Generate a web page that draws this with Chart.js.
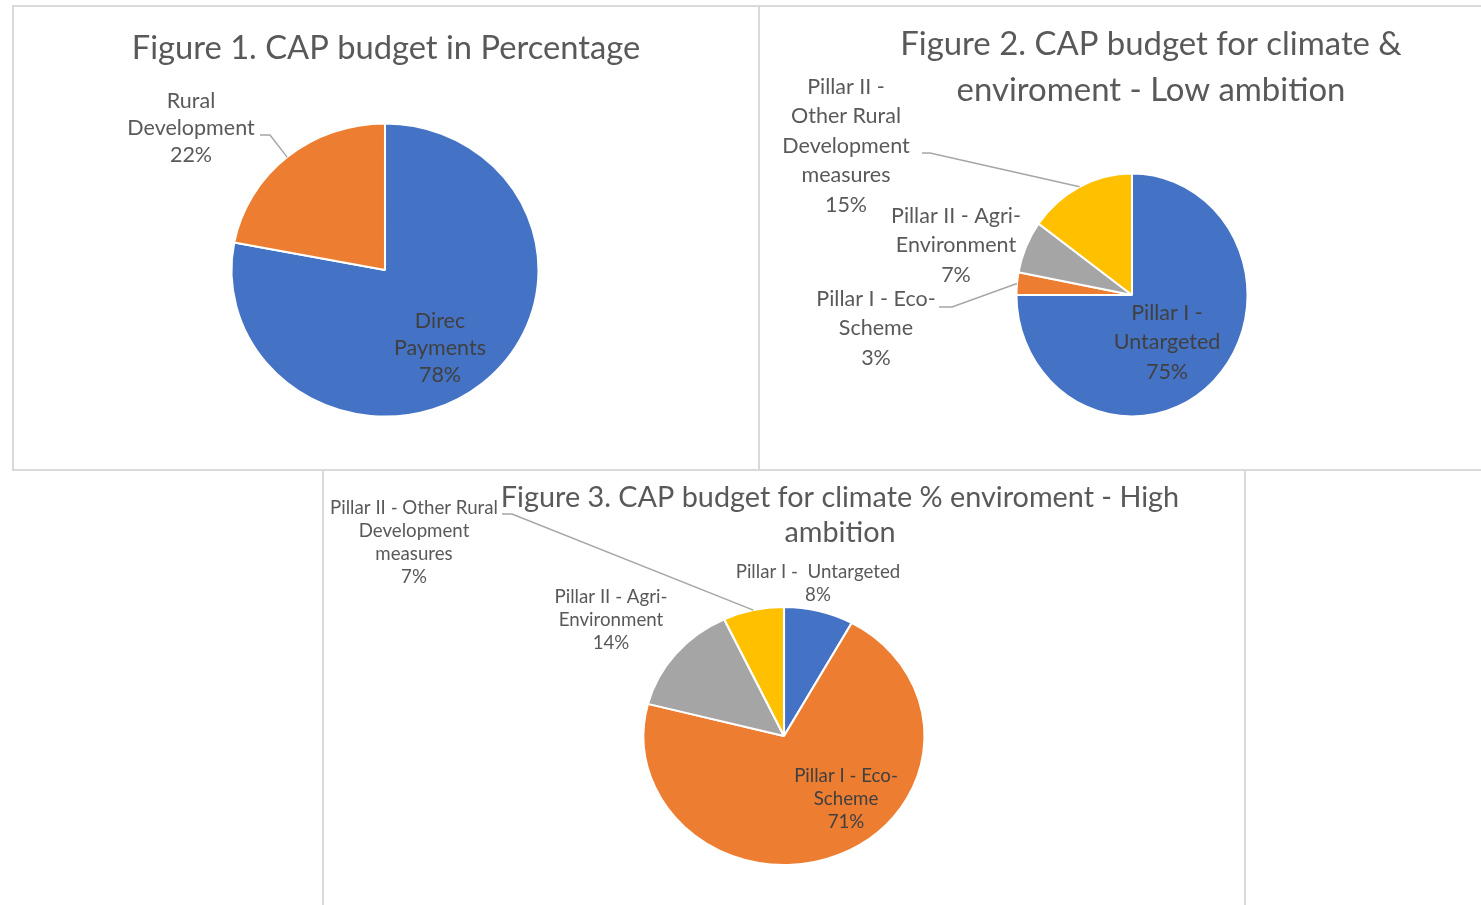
<!DOCTYPE html>
<html>
<head>
<meta charset="utf-8">
<script src="https://cdn.jsdelivr.net/npm/chart.js@4.4.0/dist/chart.umd.min.js"></script>
<style>
body { margin: 0; background: #fff; width: 1481px; height: 905px; overflow: hidden; position: relative; }
.panel { position: absolute; border: 2px solid #d9d9d9; box-sizing: border-box; }
canvas { position: absolute; }
</style>
</head>
<body>
<div class="panel" style="left:12px;top:5px;width:748px;height:466px"></div>
<div class="panel" style="left:758px;top:5px;width:730px;height:466px"></div>
<div class="panel" style="left:322px;top:469px;width:924px;height:450px"></div>
<canvas id="c1" width="744" height="462" style="left:14px;top:7px"></canvas>
<canvas id="c2" width="721" height="462" style="left:760px;top:7px"></canvas>
<canvas id="c3" width="920" height="434" style="left:324px;top:471px"></canvas>
<script>
(function () {
    // data
    var fig1Labels = [['Direc', 'Payments'], ['Rural', 'Development']];
    var fig1Values = [78, 22];

    var fig2Labels = [['Pillar I -', 'Untargeted'], ['Pillar I - Eco-', 'Scheme'], ['Pillar II - Agri-', 'Environment'], ['Pillar II -', 'Other Rural', 'Development', 'measures']];
    var fig2Values = [75, 3, 7, 15];

    var fig3Labels = [['Pillar I -  Untargeted'], ['Pillar I - Eco-', 'Scheme'], ['Pillar II - Agri-', 'Environment'], ['Pillar II - Other Rural', 'Development', 'measures']];
    var fig3Values = [8, 71, 14, 7];

    var sliceColors = ['#4472C4', '#ED7D31', '#A5A5A5', '#FFC000'];

    var FONT = 'Lato, "Open Sans", sans-serif';

    // the source screenshot is stretched a bit, so the pies are drawn as ellipses,
    // then titles + data labels with leader lines, placed like the excel originals
    var pieText = {
        id: 'pieText',
        beforeDatasetsDraw: function (chart, args, opts) {
            var ctx = chart.ctx;
            ctx.save();
            ctx.translate(opts.cx, opts.cy);
            ctx.scale(opts.sx, opts.sy);
            ctx.translate(-opts.cx, -opts.cy);
        },
        afterDatasetsDraw: function (chart, args, opts) {
            var ctx = chart.ctx;
            ctx.restore();
            var meta = chart.getDatasetMeta(0);
            var values = chart.data.datasets[0].data;
            ctx.save();
            ctx.textAlign = 'center';
            ctx.textBaseline = 'middle';
            ctx.fillStyle = '#595959';
            ctx.font = opts.titleSize + 'px ' + FONT;
            opts.title.forEach(function (t, i) {
                ctx.fillText(t, opts.titleX, opts.titleY + i * opts.titleGap);
            });

            ctx.font = opts.size + 'px ' + FONT;
            opts.spots.forEach(function (s, i) {
                var lines = [].concat(chart.data.labels[i], values[i] + '%');
                ctx.fillStyle = s.inside ? '#404040' : '#595959';
                lines.forEach(function (l, j) {
                    ctx.fillText(l, s.x, s.y + j * opts.gap);
                });
                if (s.lead) {
                    var arc = meta.data[i].getProps(['x', 'y', 'startAngle', 'endAngle', 'outerRadius'], true);
                    var mid = (arc.startAngle + arc.endAngle) / 2;
                    ctx.strokeStyle = '#a6a6a6';
                    ctx.lineWidth = 1.5;
                    ctx.beginPath();
                    ctx.moveTo(s.lead[0], s.lead[1]);
                    ctx.lineTo(s.lead[2], s.lead[1]);
                    ctx.lineTo(arc.x + Math.cos(mid) * arc.outerRadius * opts.sx,
                               arc.y + Math.sin(mid) * arc.outerRadius * opts.sy);
                    ctx.stroke();
                }
            });
            ctx.restore();
        }
    };

    function makePie(id, labels, values, geo, text) {
        var el = document.getElementById(id);
        var r = (geo.rx + geo.ry) / 2;
        text.cx = geo.cx;
        text.cy = geo.cy;
        text.sx = geo.rx / r;
        text.sy = geo.ry / r;
        return new Chart(el, {
            type: 'pie',
            data: {
                labels: labels,
                datasets: [{
                    data: values,
                    backgroundColor: sliceColors.slice(0, values.length),
                    borderColor: '#ffffff',
                    borderWidth: 2,
                    radius: r,
                    clip: false
                }]
            },
            options: {
                responsive: false,
                animation: false,
                layout: {
                    padding: {
                        left: geo.cx - r,
                        right: el.width - geo.cx - r,
                        top: geo.cy - r,
                        bottom: el.height - geo.cy - r
                    }
                },
                plugins: {
                    legend: { display: false },
                    tooltip: { enabled: false },
                    pieText: text
                }
            },
            plugins: [pieText]
        });
    }

    makePie('c1', fig1Labels, fig1Values, { cx: 371, cy: 263, rx: 153.5, ry: 146.5 }, {
        title: ['Figure 1. CAP budget in Percentage'],
        titleX: 372, titleY: 41, titleGap: 0, titleSize: 32.7,
        size: 21.5, gap: 27,
        spots: [
            { x: 426, y: 314, inside: true },
            { x: 177, y: 94, lead: [246, 128, 256] }
        ]
    });

    makePie('c2', fig2Labels, fig2Values, { cx: 372, cy: 288, rx: 115.5, ry: 121.5 }, {
        title: ['Figure 2. CAP budget for climate &', 'enviroment - Low ambition'],
        titleX: 391, titleY: 37, titleGap: 46, titleSize: 32.9,
        size: 21.5, gap: 29.5,
        spots: [
            { x: 407, y: 306, inside: true },
            { x: 116, y: 292, lead: [179, 300, 192] },
            { x: 196, y: 209 },
            { x: 86, y: 80, lead: [162, 146, 170] }
        ]
    });

    makePie('c3', fig3Labels, fig3Values, { cx: 460, cy: 265, rx: 140.5, ry: 129 }, {
        title: ['Figure 3. CAP budget for climate % enviroment - High', 'ambition'],
        titleX: 516, titleY: 27, titleGap: 35, titleSize: 28.8,
        size: 18.7, gap: 23,
        spots: [
            { x: 494, y: 101 },
            { x: 522, y: 305, inside: true },
            { x: 287, y: 126 },
            { x: 90, y: 37, lead: [178, 43, 188] }
        ]
    });
})();
</script>
</body>
</html>
